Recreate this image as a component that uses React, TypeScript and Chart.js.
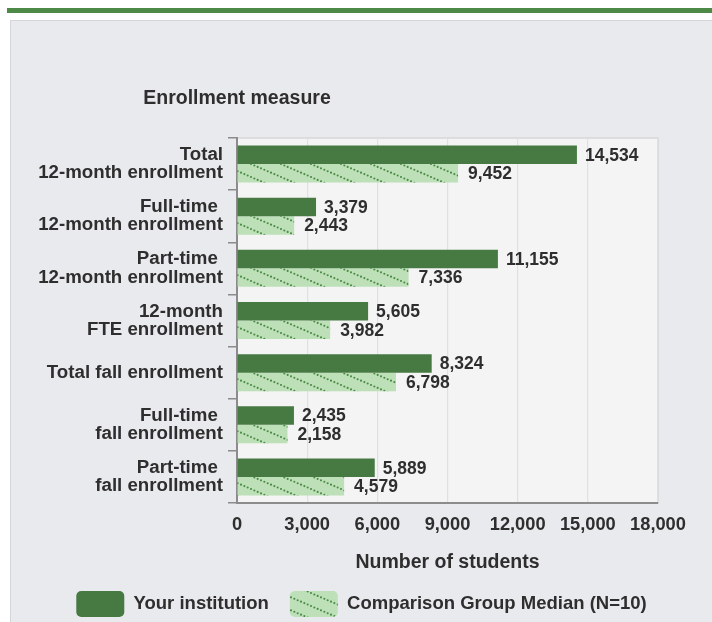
import React, { useEffect, useRef } from 'react';
import { Chart, registerables } from 'chart.js';
Chart.register(...registerables);

const categories: (string | string[])[] = [
  ['Total', '12-month enrollment'],
  ['Full-time ', '12-month enrollment'],
  ['Part-time ', '12-month enrollment'],
  ['12-month', 'FTE enrollment'],
  'Total fall enrollment',
  ['Full-time ', 'fall enrollment'],
  ['Part-time ', 'fall enrollment'],
];
const yourInstitution = [14534, 3379, 11155, 5605, 8324, 2435, 5889];
const comparisonMedian = [9452, 2443, 7336, 3982, 6798, 2158, 4579];
const seriesNames = ['Your institution', 'Comparison Group Median (N=10)'];
const xMin = 0;
const xMax = 18000;
const xStep = 3000;
const yTitle = 'Enrollment measure';
const xTitle = 'Number of students';

const FONT = '"Liberation Sans", Arial, sans-serif';
const TEXT = '#2e2e2e';
const DARK = '#467a42';
const LIGHT = '#bde0b8';
const DOT = '#4a8a45';

function makeHatch(): CanvasPattern | string {
  const w = 30, h = 13;
  const c = document.createElement('canvas');
  c.width = w; c.height = h;
  const g = c.getContext('2d');
  if (!g) return LIGHT;
  g.fillStyle = LIGHT;
  g.fillRect(0, 0, w, h);
  g.fillStyle = DOT;
  const n = 9;
  for (let i = 0; i < n; i++) {
    const t = i / n;
    const x = t * w, y = t * h;
    g.beginPath();
    g.arc(x, y, 1.05, 0, Math.PI * 2);
    g.fill();
    if (i === 0) {
      g.beginPath(); g.arc(x + w, y, 1.05, 0, Math.PI * 2); g.fill();
      g.beginPath(); g.arc(x, y + h, 1.05, 0, Math.PI * 2); g.fill();
      g.beginPath(); g.arc(x + w, y + h, 1.05, 0, Math.PI * 2); g.fill();
    }
  }
  const p = g.createPattern(c, 'repeat');
  return p || LIGHT;
}

const plotBg = {
  id: 'plotBg',
  beforeDraw(chart: any) {
    const { ctx, chartArea: a } = chart;
    ctx.save();
    ctx.fillStyle = '#f4f4f4';
    ctx.fillRect(a.left, a.top, a.right - a.left, a.bottom - a.top);
    ctx.strokeStyle = '#d6d6d6';
    ctx.lineWidth = 1.5;
    ctx.beginPath();
    ctx.moveTo(a.left, a.top);
    ctx.lineTo(a.right, a.top);
    ctx.lineTo(a.right, a.bottom);
    ctx.stroke();
    ctx.restore();
  },
};

const labelsPlugin = {
  id: 'valueLabels',
  afterDatasetsDraw(chart: any) {
    const { ctx } = chart;
    ctx.save();
    ctx.font = `bold 17.5px ${FONT}`;
    ctx.fillStyle = TEXT;
    ctx.textAlign = 'left';
    ctx.textBaseline = 'middle';
    chart.data.datasets.forEach((ds: any, di: number) => {
      const meta = chart.getDatasetMeta(di);
      meta.data.forEach((bar: any, i: number) => {
        const v = ds.data[i] as number;
        ctx.fillText(v.toLocaleString('en-US'), bar.x + (di === 0 ? 8 : 10), bar.y + 1);
      });
    });
    ctx.restore();
  },
  afterDraw(chart: any) {
    const { ctx, chartArea: a } = chart;
    ctx.save();
    ctx.font = `bold 19.5px ${FONT}`;
    ctx.fillStyle = TEXT;
    ctx.textAlign = 'center';
    ctx.textBaseline = 'middle';
    ctx.fillText(yTitle, a.left, a.top - 39);
    ctx.restore();
  },
};

export default function App() {
  const ref = useRef<HTMLCanvasElement>(null);
  useEffect(() => {
    if (!ref.current) return;
    const hatch = makeHatch();
    const chart = new Chart(ref.current, {
      type: 'bar',
      data: {
        labels: categories,
        datasets: [
          {
            label: seriesNames[0],
            data: yourInstitution,
            backgroundColor: DARK,
            borderWidth: 0,
            categoryPercentage: 0.71,
            barPercentage: 1.0,
          },
          {
            label: seriesNames[1],
            data: comparisonMedian,
            backgroundColor: hatch as any,
            borderWidth: 0,
            categoryPercentage: 0.71,
            barPercentage: 1.0,
          },
        ],
      },
      options: {
        indexAxis: 'y',
        animation: false,
        responsive: false,
        maintainAspectRatio: false,
        devicePixelRatio: 1,
        layout: { padding: { top: 117, left: 0, right: 0, bottom: 0 } },
        font: { family: FONT },
        plugins: {
          legend: {
            display: true,
            position: 'bottom',
            labels: {
              boxWidth: 48,
              boxHeight: 26,
              padding: 21,
              useBorderRadius: true,
              borderRadius: 5,
              color: TEXT,
              font: { family: FONT, size: 18.5, weight: 'bold' },
            },
          },
          tooltip: { enabled: false },
          title: { display: false },
        },
        scales: {
          x: {
            type: 'linear',
            min: xMin,
            max: xMax,
            ticks: {
              stepSize: xStep,
              padding: 11,
              color: TEXT,
              font: { family: FONT, size: 18.3, weight: 'bold' },
              callback: (v: any) => Number(v).toLocaleString('en-US'),
            },
            grid: { color: '#dbe1ea', lineWidth: 1.2, drawTicks: false },
            border: { display: true, color: '#8c8c8c', width: 2 },
            title: {
              display: true,
              text: xTitle,
              color: TEXT,
              font: { family: FONT, size: 19.5, weight: 'bold', lineHeight: 0.8 },
              padding: { top: 0, bottom: 0 },
            },
            afterFit: (s: any) => { s.height = 67; },
          },
          y: {
            type: 'category',
            ticks: {
              padding: 5,
              color: TEXT,
              font: { family: FONT, size: 18.7, weight: 'bold', lineHeight: 0.97 },
            },
            grid: {
              drawOnChartArea: false,
              drawTicks: true,
              tickLength: 9,
              color: '#8c8c8c',
              lineWidth: 1.5,
              offset: true,
            },
            border: { display: true, color: '#8c8c8c', width: 2 },
            afterFit: (s: any) => { s.width = 226; },
          },
          yRight: {
            type: 'linear',
            position: 'right',
            display: true,
            grid: { display: false, drawTicks: false },
            ticks: { display: false },
            border: { display: false },
            afterFit: (s: any) => { s.width = 54; },
          },
        },
      } as any,
      plugins: [plotBg, labelsPlugin],
    });
    return () => chart.destroy();
  }, []);

  return (
    <div style={{ position: 'fixed', left: 0, top: 0, width: 712, height: 622, overflow: 'hidden', background: '#ffffff' }}>
      <div style={{ position: 'absolute', left: 7, top: 8, width: 720, height: 5, background: '#4e8a47' }} />
      <div style={{ position: 'absolute', left: 10, top: 20, width: 720, height: 640, background: '#e9eaee', border: '1px solid #d5d6da' }} />
      <canvas ref={ref} width={701} height={606} style={{ position: 'absolute', left: 11, top: 21, width: 701, height: 606 }} />
    </div>
  );
}
